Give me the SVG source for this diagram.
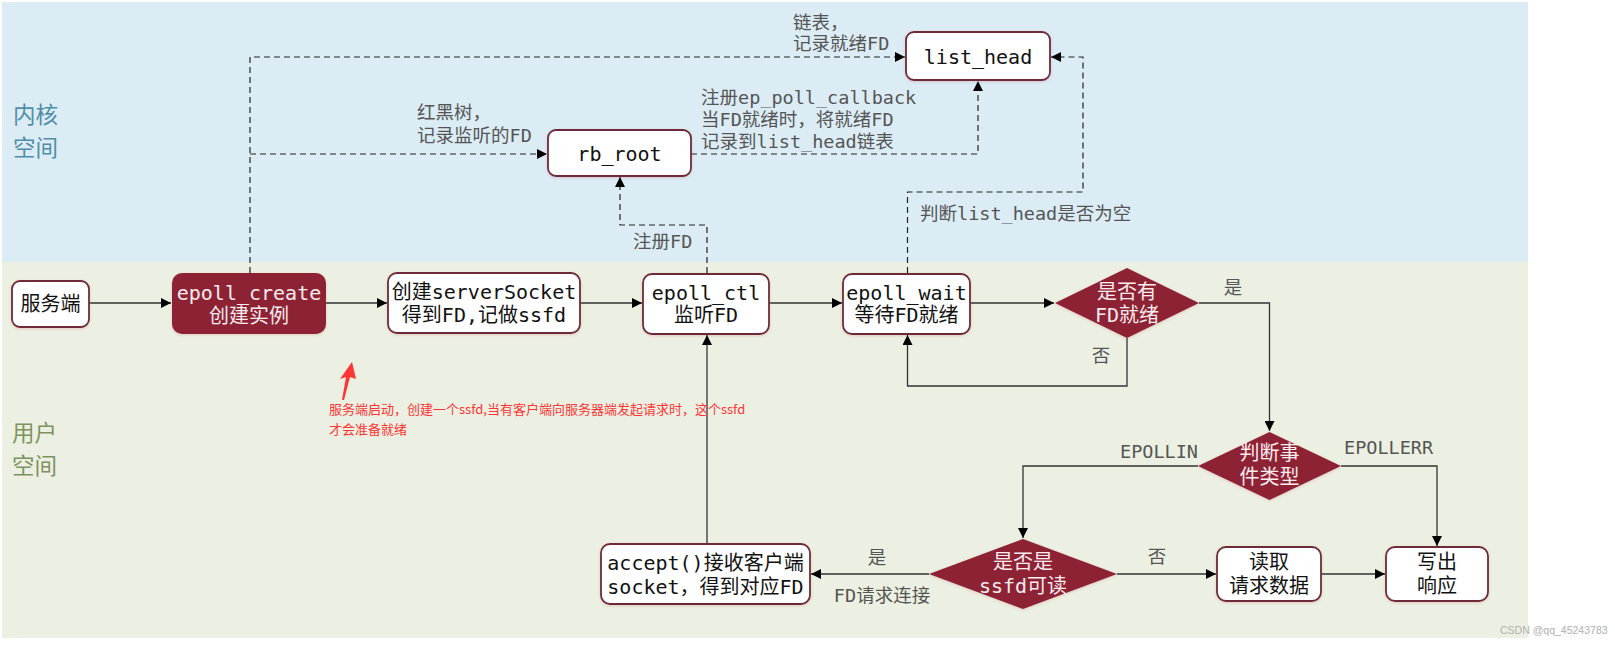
<svg xmlns="http://www.w3.org/2000/svg" width="1615" height="648" viewBox="0 0 1615 648">
<defs>
<marker id="ah" markerUnits="userSpaceOnUse" markerWidth="11" markerHeight="10" refX="10" refY="5" orient="auto">
<path d="M0,0 L10,5 L0,10 z" fill="#000"/>
</marker>
<filter id="glow" x="-10%" y="-10%" width="120%" height="130%">
<feDropShadow dx="0" dy="1" stdDeviation="1.5" flood-color="#c05060" flood-opacity="0.25"/>
</filter>
</defs>
<style>
.box{fill:#fff;stroke:#6e2c38;stroke-width:1.8;filter:url(#glow)}
.dark{fill:#8e2435;filter:url(#glow)}
.nt{font-family:"DejaVu Sans Mono","Noto Sans CJK SC",monospace;font-size:20px;fill:#111;text-anchor:middle;dominant-baseline:central}
.wt{font-family:"DejaVu Sans Mono","Noto Sans CJK SC",monospace;font-size:20px;fill:#fbecee;text-anchor:middle;dominant-baseline:central}
.lbl{font-family:"DejaVu Sans Mono","Noto Sans CJK SC",monospace;font-size:18.5px;fill:#555;dominant-baseline:central}
.sol{fill:none;stroke:#333;stroke-width:1.3}
.dsh{fill:none;stroke:#222;stroke-width:1.2;stroke-dasharray:6 4}
.zone{font-family:"Noto Sans CJK SC",sans-serif;font-size:22.5px}
.red{font-family:"Noto Sans CJK SC",sans-serif;font-size:13px;fill:#ff3535;dominant-baseline:central}
</style>
<rect x="0" y="0" width="1615" height="648" fill="#fff"/>
<rect x="2" y="2" width="1526" height="260" fill="#dbecf5"/>
<rect x="2" y="262" width="1526" height="376" fill="#ecf0e2"/>
<text class="zone" fill="#4f8ea6"><tspan x="13" y="123">内核</tspan><tspan x="13" y="156">空间</tspan></text>
<text class="zone" fill="#7d9260"><tspan x="12" y="441">用户</tspan><tspan x="12" y="474">空间</tspan></text>

<g id="connectors">
<path class="dsh" d="M250,273 V57 H905" marker-end="url(#ah)"/>
<path class="dsh" d="M250,154 H547" marker-end="url(#ah)"/>
<path class="dsh" d="M691,154 H978 V81" marker-end="url(#ah)"/>
<path class="dsh" d="M707,273 V225 H620 V177" marker-end="url(#ah)"/>
<path class="dsh" d="M907.5,273 V192 H1083 V57 H1051" marker-end="url(#ah)"/>
<path class="sol" d="M89,303 H171" marker-end="url(#ah)"/>
<path class="sol" d="M326,303 H387" marker-end="url(#ah)"/>
<path class="sol" d="M580,303 H642" marker-end="url(#ah)"/>
<path class="sol" d="M769,303 H842" marker-end="url(#ah)"/>
<path class="sol" d="M970,303 H1054" marker-end="url(#ah)"/>
<path class="sol" d="M1127,338 V386 H907.5 V335" marker-end="url(#ah)"/>
<path class="sol" d="M1199,303 H1269.5 V431" marker-end="url(#ah)"/>
<path class="sol" d="M1198,466 H1023 V538" marker-end="url(#ah)"/>
<path class="sol" d="M1341,466 H1437 V546" marker-end="url(#ah)"/>
<path class="sol" d="M929,574 H811" marker-end="url(#ah)"/>
<path class="sol" d="M707,544 V335" marker-end="url(#ah)"/>
<path class="sol" d="M1117,574 H1216" marker-end="url(#ah)"/>
<path class="sol" d="M1321,574 H1385" marker-end="url(#ah)"/>
<text class="lbl" x="793" y="22">链表，</text>
<text class="lbl" x="793" y="43">记录就绪FD</text>
<text class="lbl" x="417" y="112">红黑树，</text>
<text class="lbl" x="417" y="135">记录监听的FD</text>
<text class="lbl" x="701" y="97">注册ep_poll_callback</text>
<text class="lbl" x="701" y="119">当FD就绪时，将就绪FD</text>
<text class="lbl" x="701" y="141">记录到list_head链表</text>
<text class="lbl" x="633" y="241">注册FD</text>
<text class="lbl" x="920" y="213">判断list_head是否为空</text>
<text class="lbl" x="1233" y="287" text-anchor="middle">是</text>
<text class="lbl" x="1101" y="355" text-anchor="middle">否</text>
<text class="lbl" x="1198" y="451" text-anchor="end">EPOLLIN</text>
<text class="lbl" x="1344" y="447">EPOLLERR</text>
<text class="lbl" x="877" y="557" text-anchor="middle">是</text>
<text class="lbl" x="882" y="595" text-anchor="middle">FD请求连接</text>
<text class="lbl" x="1157" y="556" text-anchor="middle">否</text>
</g>

<g id="n-server">
<rect class="box" x="12" y="281" width="77" height="46" rx="8"/>
<text class="nt" x="50.5" y="304">服务端</text>
</g>
<g id="n-epoll-create">
<rect class="dark" x="172" y="273" width="154" height="61" rx="10"/>
<text class="wt" x="249" y="293">epoll_create</text>
<text class="wt" x="249" y="316">创建实例</text>
</g>
<g id="n-serversocket">
<rect class="box" x="388" y="273" width="192" height="60" rx="9"/>
<text class="nt" x="484" y="292">创建serverSocket</text>
<text class="nt" x="484" y="315">得到FD,记做ssfd</text>
</g>
<g id="n-epoll-ctl">
<rect class="box" x="643" y="274" width="126" height="60" rx="9"/>
<text class="nt" x="706" y="293">epoll_ctl</text>
<text class="nt" x="706" y="315">监听FD</text>
</g>
<g id="n-epoll-wait">
<rect class="box" x="843" y="274" width="127" height="60" rx="9"/>
<text class="nt" x="906.5" y="293">epoll_wait</text>
<text class="nt" x="906.5" y="315">等待FD就绪</text>
</g>
<g id="n-rb-root">
<rect class="box" x="548" y="130" width="143" height="46" rx="8"/>
<text class="nt" x="619.5" y="154">rb_root</text>
</g>
<g id="n-list-head">
<rect class="box" x="906" y="32" width="144" height="48" rx="8"/>
<text class="nt" x="978" y="57">list_head</text>
</g>
<g id="n-has-fd">
<polygon class="dark" points="1127,268 1199,303 1127,338 1055,303"/>
<text class="wt" x="1127" y="292">是否有</text>
<text class="wt" x="1127" y="315">FD就绪</text>
</g>
<g id="n-event-type">
<polygon class="dark" points="1269.5,432 1341,466 1269.5,500 1198,466"/>
<text class="wt" x="1269.5" y="453">判断事</text>
<text class="wt" x="1269.5" y="477">件类型</text>
</g>
<g id="n-is-ssfd">
<polygon class="dark" points="1023,539 1117,574 1023,609 929,574"/>
<text class="wt" x="1023" y="562">是否是</text>
<text class="wt" x="1023" y="586">ssfd可读</text>
</g>
<g id="n-accept">
<rect class="box" x="601" y="544" width="209" height="60" rx="9"/>
<text class="nt" x="705.5" y="563">accept()接收客户端</text>
<text class="nt" x="705.5" y="587">socket，得到对应FD</text>
</g>
<g id="n-read">
<rect class="box" x="1217" y="547" width="104" height="54" rx="9"/>
<text class="nt" x="1269" y="562">读取</text>
<text class="nt" x="1269" y="586">请求数据</text>
</g>
<g id="n-write">
<rect class="box" x="1386" y="547" width="102" height="54" rx="9"/>
<text class="nt" x="1437" y="562">写出</text>
<text class="nt" x="1437" y="586">响应</text>
</g>

<g id="annotation">
<polygon points="352,362 356,379 350,377 344,400 342,400 346,377 340,379" fill="#ff3535"/>
<text class="red" x="329" y="408">服务端启动，创建一个ssfd,当有客户端向服务器端发起请求时，这个ssfd</text>
<text class="red" x="329" y="428">才会准备就绪</text>
</g>
<text x="1500" y="634" font-family="Liberation Sans, sans-serif" font-size="10.5px" fill="#b0b0b0">CSDN @qq_45243783</text>
</svg>
